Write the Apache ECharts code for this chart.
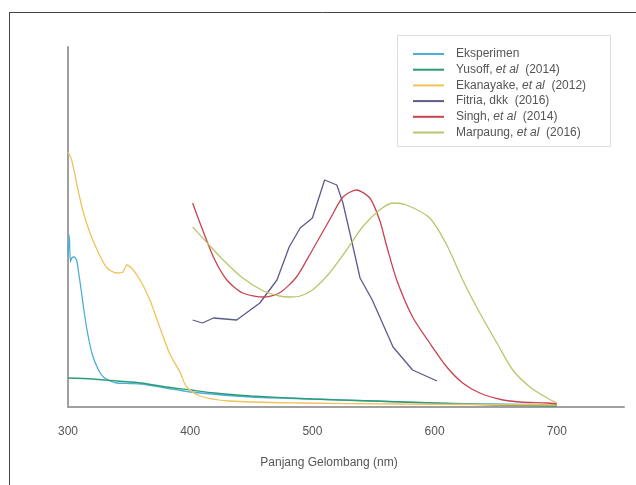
<!DOCTYPE html>
<html>
<head>
<meta charset="utf-8">
<script src="https://cdn.jsdelivr.net/npm/echarts@6/dist/echarts.min.js"></script>
<style>
html,body{margin:0;padding:0;background:#fff;}
#chart{width:636px;height:485px;}
</style>
</head>
<body>
<div id="chart"></div>
<script>
// ---- Data (wavelength nm, relative absorbance) ----
var xTicks = [300, 400, 500, 600, 700];
var seriesNames = ['Eksperimen', 'Yusoff, et al  (2014)', 'Ekanayake, et al  (2012)', 'Fitria, dkk  (2016)', 'Singh, et al  (2014)', 'Marpaung, et al  (2016)'];

var eksperimen = [[300,1.52],[301,1.72],[302,1.45],[303,1.49],[305,1.50],[307,1.47],[309,1.32],[311,1.15],[313,0.97],[316,0.74],[320,0.52],[325,0.37],[330,0.29],[340,0.24],[350,0.235],[360,0.23],[380,0.19],[400,0.15],[450,0.10],[500,0.08],[550,0.06],[600,0.04],[650,0.03],[700,0.02]];
var yusoff = [[300,0.29],[320,0.28],[340,0.26],[360,0.24],[380,0.20],[400,0.17],[420,0.14],[450,0.11],[500,0.08],[550,0.06],[600,0.04],[650,0.02],[700,0.01]];
var ekanayake = [[300,2.55],[303,2.47],[307,2.24],[312,1.97],[318,1.74],[325,1.54],[332,1.39],[340,1.34],[345,1.35],[348,1.42],[352,1.39],[359,1.27],[367,1.07],[375,0.80],[383,0.54],[392,0.34],[397,0.20],[408,0.11],[432,0.06],[490,0.04],[571,0.03],[700,0.02]];
var fitria = [[402,0.87],[410,0.84],[419,0.89],[438,0.87],[457,1.04],[471,1.27],[481,1.60],[490,1.79],[500,1.89],[510,2.27],[520,2.22],[525,2.04],[532,1.67],[539,1.29],[549,1.07],[566,0.60],[582,0.37],[602,0.26]];
var singh = [[402,2.04],[408,1.84],[419,1.50],[430,1.27],[443,1.14],[460,1.10],[473,1.14],[487,1.30],[500,1.57],[514,1.87],[525,2.10],[536,2.17],[547,2.09],[555,1.87],[561,1.60],[569,1.27],[582,0.90],[596,0.64],[610,0.40],[623,0.24],[637,0.14],[656,0.07],[670,0.05],[692,0.04],[700,0.03]];
var marpaung = [[402,1.80],[414,1.64],[427,1.47],[443,1.29],[460,1.16],[473,1.11],[482,1.10],[490,1.11],[500,1.17],[514,1.34],[528,1.57],[541,1.80],[555,1.97],[566,2.04],[577,2.02],[596,1.89],[610,1.62],[623,1.27],[637,0.94],[651,0.64],[664,0.37],[678,0.20],[692,0.09],[700,0.04]];

var colors = ['#4bafd6', '#2e9b78', '#f1c15c', '#5b5b8c', '#c9434f', '#b9c66c'];

function legendFmt(name) {
  var m = name.match(/^(.*?, )et al(.*)$/);
  if (m) return '{n|' + m[1] + '}{i|et al}{n|' + m[2] + '}';
  return '{n|' + name + '}';
}

var chart = echarts.init(document.getElementById('chart'), null, {renderer: 'canvas'});
var dataSets = [eksperimen, yusoff, ekanayake, fitria, singh, marpaung];
var series = dataSets.map(function (d, i) {
  return {
    name: seriesNames[i],
    type: 'line',
    data: d,
    showSymbol: false,
    smooth: i === 3 ? false : 0.25,
    lineStyle: {width: 1.3, color: colors[i]},
    itemStyle: {color: colors[i]},
    z: 2 + i
  };
});

chart.setOption({
  animation: false,
  backgroundColor: '#fff',
  grid: {left: 68, top: 47, right: 12, bottom: 78},
  xAxis: {
    type: 'value', min: 300, max: 755, interval: 100,
    axisLine: {show: true, lineStyle: {color: '#a0a0a0', width: 2}},
    axisTick: {show: false},
    splitLine: {show: false},
    axisLabel: {
      margin: 19, color: '#555', fontSize: 12, fontFamily: 'Liberation Sans, Arial, sans-serif',
      formatter: function (v) { return xTicks.indexOf(v) >= 0 ? String(v) : ''; }
    }
  },
  yAxis: {
    type: 'value', min: 0, max: 3.6,
    axisLine: {show: true, lineStyle: {color: '#a0a0a0', width: 2}},
    axisTick: {show: false},
    axisLabel: {show: false},
    splitLine: {show: false}
  },
  legend: {
    orient: 'vertical',
    left: 408, top: 43,
    itemWidth: 31, itemHeight: 2, itemGap: 3.7,
    icon: 'rect',
    data: seriesNames,
    formatter: legendFmt,
    textStyle: {
      color: '#555', fontSize: 12, fontFamily: 'Liberation Sans, Arial, sans-serif',
      padding: [0, 0, 0, 7],
      rich: {
        n: {color: '#555', fontSize: 12, lineHeight: 13, fontFamily: 'Liberation Sans, Arial, sans-serif'},
        i: {color: '#555', fontSize: 12, lineHeight: 13, fontStyle: 'italic', fontFamily: 'Liberation Sans, Arial, sans-serif'}
      }
    }
  },
  graphic: [
    {type: 'line', shape: {x1: 9, y1: 12.5, x2: 636, y2: 12.5}, style: {stroke: '#444', lineWidth: 1}, silent: true},
    {type: 'line', shape: {x1: 9.5, y1: 12, x2: 9.5, y2: 485}, style: {stroke: '#444', lineWidth: 1}, silent: true},
    {type: 'rect', shape: {x: 397.5, y: 35.5, width: 213, height: 111}, style: {fill: 'rgba(0,0,0,0)', stroke: '#dddddd', lineWidth: 1}, silent: true, z: 1},
    {type: 'text', x: 329, y: 463, style: {text: 'Panjang Gelombang (nm)', fill: '#555', fontSize: 12, fontFamily: 'Liberation Sans, Arial, sans-serif', textAlign: 'center', textVerticalAlign: 'middle'}, silent: true}
  ],
  series: series
});
</script>
</body>
</html>
